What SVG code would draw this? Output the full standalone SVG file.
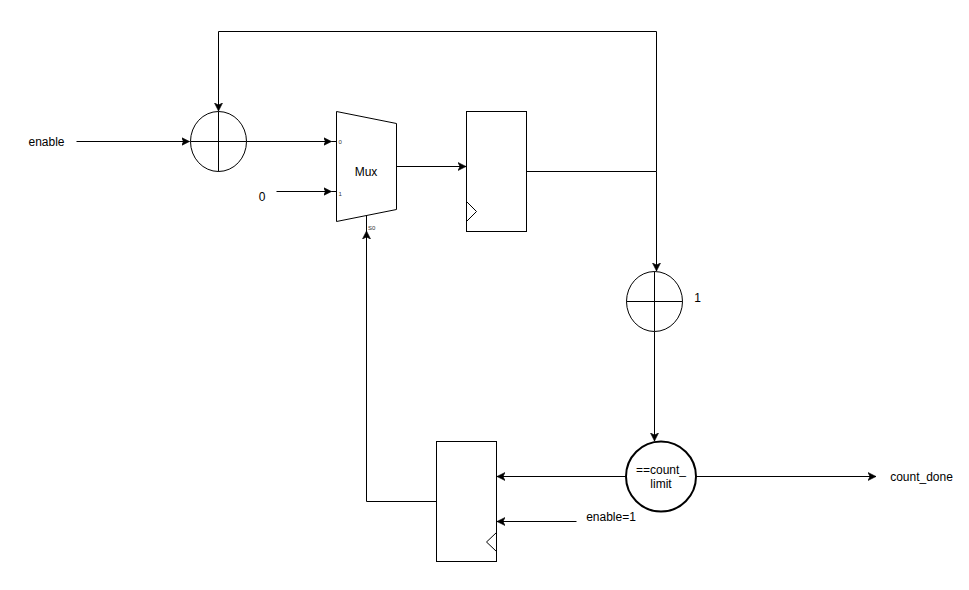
<svg xmlns="http://www.w3.org/2000/svg" width="969" height="590" viewBox="0 0 969 590">
<style>
text{font-family:"Liberation Sans",Arial,sans-serif;font-size:12px;fill:#000;text-anchor:middle}
.s{fill:#fff;stroke:#000;stroke-width:1}
.c{fill:none;stroke:#000;stroke-width:1}
.p{font-size:6px;fill:#333;text-anchor:start}
</style>
<defs>
<marker id="a" markerUnits="userSpaceOnUse" markerWidth="10" markerHeight="10" refX="8" refY="4" orient="auto" viewBox="0 0 10 8">
<path d="M0 0L8 4L0 8L2 4Z" fill="#000" stroke="#000" stroke-width=".6"/>
</marker>
</defs>
<rect width="969" height="590" fill="#fff"/>
<g id="connectors">
<path class="c" d="M76.500 141.500H189.500" marker-end="url(#a)"/>
<path class="c" d="M246.500 141.500H331.500" marker-end="url(#a)"/>
<path class="c" d="M331.500 141.500H336.500"/>
<path class="c" d="M276.500 191.500H331.500" marker-end="url(#a)"/>
<path class="c" d="M331.500 191.500H336.500"/>
<path class="c" d="M396.500 166.500H466" marker-end="url(#a)"/>
<path class="c" d="M526.500 171.500H656.500V31.500H218.500V111" marker-end="url(#a)"/>
<path class="c" d="M656.500 171.500V271" marker-end="url(#a)"/>
<path class="c" d="M654.500 331.500V441" marker-end="url(#a)"/>
<path class="c" d="M696 476.500H876" marker-end="url(#a)"/>
<path class="c" d="M626 476.500H497" marker-end="url(#a)"/>
<path class="c" d="M576.500 521.500H497" marker-end="url(#a)"/>
<path class="c" d="M436.500 501.500H366.500V231" marker-end="url(#a)"/>
<path class="c" d="M366.500 216V231"/>
</g>
<g id="adder1">
<ellipse class="s" cx="218.500" cy="141.500" rx="28" ry="30"/>
<path class="c" d="M190.500 141.500H246.500M218.500 111.500V171.500"/>
</g>
<g id="mux">
<path class="s" d="M336.500 111.500L396.500 123.500V209.500L336.500 221.500Z"/>
<text x="366" y="176">Mux</text>
<text class="p" x="338.500" y="144">0</text>
<text class="p" x="338.500" y="196">1</text>
<text class="p" x="368" y="230">S0</text>
</g>
<g id="register1">
<rect class="s" x="466.500" y="111.500" width="60" height="120"/>
<path class="c" d="M466.500 201.500L476.500 211.500L466.500 221.500"/>
</g>
<g id="adder2">
<ellipse class="s" cx="654.500" cy="301.500" rx="28" ry="30"/>
<path class="c" d="M626.500 301.500H682.500M654.500 271.500V331.500"/>
<text x="697.500" y="301.500">1</text>
</g>
<g id="comparator">
<circle class="s" cx="661" cy="476.500" r="35" style="stroke-width:2"/>
<text x="661" y="474">==count_</text>
<text x="661" y="488">limit</text>
</g>
<g id="register2">
<rect class="s" x="436.500" y="441.500" width="60" height="120"/>
<path class="c" d="M496.500 532.500L486.500 542L496.500 551.500"/>
</g>
<g id="labels">
<text x="46.500" y="146">enable</text>
<text x="262" y="201">0</text>
<text x="611" y="521">enable=1</text>
<text x="921.500" y="481">count_done</text>
</g>
</svg>
